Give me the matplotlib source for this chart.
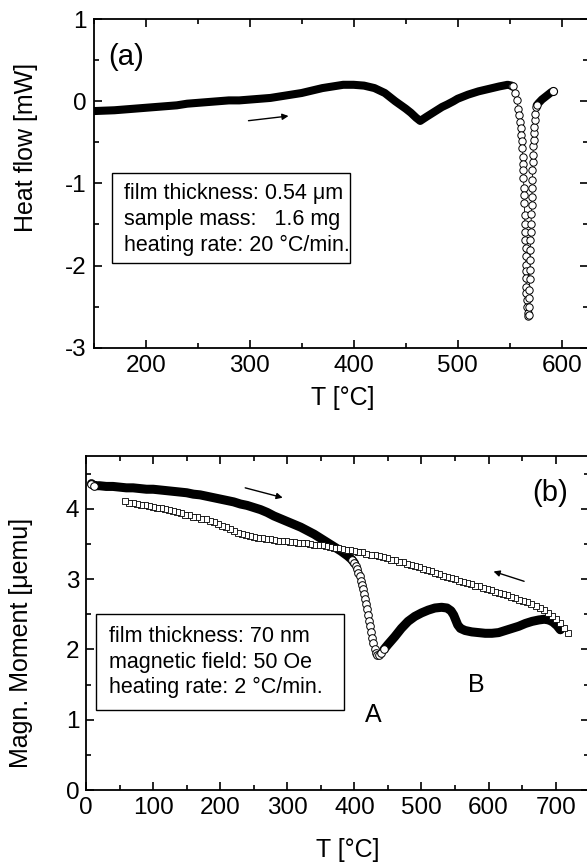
import matplotlib
matplotlib.use('Agg')  # no display
import matplotlib.pyplot as plt
from matplotlib.patches import Rectangle
import numpy as np

plt.rcParams['font.family'] = ['Liberation Sans', 'DejaVu Sans']
plt.rcParams['axes.unicode_minus'] = False

# ---- (a) DSC heat flow ----
dsc_T = [150, 160, 170, 180, 190, 200, 210, 220, 230, 240, 250, 260, 270, 280,
         290, 300, 310, 320, 330, 340, 350, 360, 370, 380, 390, 400, 410, 420,
         430, 440, 450, 455, 460, 464, 470, 475, 480, 485, 490, 496, 500, 510,
         520, 530, 540, 548, 552,
         # sharp peak, descending branch
         553.5, 555.1, 556.7, 558.3, 559.0, 559.9, 560.5, 561.2, 561.5, 562.2,
         562.5, 562.6, 563.1, 563.2, 563.8, 563.9, 564.2, 564.3, 564.7, 564.8,
         564.9, 565.3, 565.4, 565.5, 565.7, 565.8, 565.9, 566.0, 566.4, 566.6,
         567.2, 567.6,
         # rising branch
         568.3, 568.3, 568.6, 569.0, 569.3, 569.6, 569.6, 570.0, 570.0, 570.3,
         570.6, 570.9, 571.2, 571.5, 571.5, 571.9, 571.9, 572.2, 572.5, 572.7,
         573.0, 573.4, 573.7, 574.0, 574.3, 575.0,
         # tail
         576, 578, 581, 584, 587, 590, 592]
dsc_hf = [-0.12, -0.115, -0.11, -0.10, -0.09, -0.08, -0.07, -0.06, -0.05, -0.03,
          -0.02, -0.01, 0.0, 0.01, 0.01, 0.02, 0.03, 0.04, 0.06, 0.08, 0.10, 0.13,
          0.16, 0.18, 0.20, 0.20, 0.19, 0.16, 0.10, 0.0, -0.09, -0.14, -0.20,
          -0.24, -0.19, -0.15, -0.11, -0.07, -0.04, 0.0, 0.03, 0.08, 0.12, 0.15,
          0.18, 0.20, 0.19,
          0.18, 0.10, 0.015, -0.09, -0.17, -0.25, -0.33, -0.41, -0.49, -0.57,
          -0.675, -0.76, -0.84, -0.94, -1.06, -1.14, -1.24, -1.38, -1.49, -1.59,
          -1.69, -1.79, -1.89, -1.99, -2.07, -2.15, -2.26, -2.34, -2.42, -2.50,
          -2.58, -2.61,
          -2.60, -2.50, -2.40, -2.30, -2.17, -2.05, -1.93, -1.81, -1.69, -1.59,
          -1.49, -1.37, -1.26, -1.16, -1.06, -0.96, -0.84, -0.74, -0.655, -0.55,
          -0.47, -0.39, -0.31, -0.23, -0.15, -0.07,
          -0.05, -0.02, 0.02, 0.05, 0.08, 0.11, 0.12]

# ---- (b) magnetic moment, heating (circles) ----
heat_T = [8, 12, 20, 30, 40, 50, 60, 70, 80, 90, 100, 110, 120, 130, 140, 150,
          160, 170, 180, 190, 200, 210, 220, 230, 240, 250, 260, 270, 280, 290,
          300, 310, 320, 330, 340, 350, 360, 370, 380, 390, 396,
          400, 402, 404, 406, 408, 410, 411.5, 413, 414.5, 416, 417.5, 419,
          420.5, 422, 423.5, 425, 426.5, 428, 430, 432, 434, 437, 440, 444,
          450, 460, 470, 480, 490, 500, 510, 520, 530, 538, 544, 548, 551, 554,
          558, 565, 575, 585, 595, 605, 615, 625, 635, 645, 655, 665, 675, 683,
          690, 696, 702, 707]
heat_M = [4.36, 4.33, 4.33, 4.32, 4.32, 4.31, 4.30, 4.30, 4.29, 4.28, 4.28, 4.27,
          4.26, 4.25, 4.24, 4.23, 4.21, 4.20, 4.18, 4.16, 4.14, 4.12, 4.10, 4.07,
          4.05, 4.02, 3.99, 3.95, 3.90, 3.86, 3.82, 3.78, 3.74, 3.69, 3.64, 3.58,
          3.52, 3.46, 3.40, 3.33, 3.28,
          3.23, 3.19, 3.14, 3.09, 3.04, 2.98, 2.92, 2.86, 2.79, 2.72, 2.65, 2.57,
          2.49, 2.41, 2.33, 2.25, 2.17, 2.09, 2.01, 1.95, 1.92, 1.92, 1.95, 2.00,
          2.07, 2.18, 2.30, 2.40, 2.47, 2.52, 2.56, 2.59, 2.60, 2.59, 2.55, 2.49,
          2.42, 2.35, 2.30, 2.27, 2.25, 2.24, 2.23, 2.23, 2.24, 2.27, 2.30, 2.33,
          2.37, 2.40, 2.42, 2.43, 2.42, 2.39, 2.34, 2.28]

# ---- (b) magnetic moment, cooling (squares) ----
cool_T = [718, 712, 706, 700, 694, 688, 682, 676, 670, 664, 658, 652, 646, 640,
          634, 628, 622, 616, 610, 604, 598, 592, 586, 580, 574, 568, 562, 556,
          550, 544, 538, 532, 526, 520, 514, 508, 502, 496, 490, 484, 478, 472,
          466, 460, 454, 448, 442, 436, 430, 424, 418, 412, 406, 400, 394, 388,
          382, 376, 370, 364, 358, 352, 346, 340, 334, 328, 322, 316, 310, 304,
          298, 292, 286, 280, 274, 268, 262, 256, 250, 244, 238, 232, 226, 220,
          214, 208, 202, 196, 190, 184, 178, 172, 166, 160, 154, 148, 142, 136,
          130, 124, 118, 112, 106, 100, 94, 88, 82, 76, 70, 64, 58]
cool_M = [2.24, 2.31, 2.38, 2.44, 2.48, 2.52, 2.56, 2.59, 2.62, 2.64, 2.67, 2.69,
          2.71, 2.73, 2.75, 2.77, 2.79, 2.80, 2.82, 2.84, 2.86, 2.88, 2.90, 2.91,
          2.93, 2.95, 2.96, 2.98, 3.00, 3.01, 3.03, 3.05, 3.07, 3.09, 3.11, 3.13,
          3.15, 3.17, 3.19, 3.20, 3.22, 3.24, 3.25, 3.27, 3.28, 3.30, 3.31, 3.33,
          3.34, 3.35, 3.36, 3.38, 3.39, 3.40, 3.41, 3.42, 3.43, 3.44, 3.45, 3.46,
          3.47, 3.48, 3.49, 3.49, 3.50, 3.51, 3.51, 3.52, 3.53, 3.53, 3.54, 3.55,
          3.55, 3.56, 3.57, 3.57, 3.58, 3.59, 3.60, 3.61, 3.63, 3.64, 3.66, 3.68,
          3.71, 3.74, 3.76, 3.79, 3.81, 3.83, 3.85, 3.86, 3.88, 3.89, 3.91, 3.92,
          3.94, 3.95, 3.97, 3.98, 4.00, 4.01, 4.02, 4.03, 4.04, 4.05, 4.06, 4.07,
          4.08, 4.09, 4.11]

info_a = ['film thickness: 0.54 \u03bcm', 'sample mass:   1.6 mg',
          'heating rate: 20 \u00b0C/min.']
info_b = ['film thickness: 70 nm', 'magnetic field: 50 Oe',
          'heating rate: 2 \u00b0C/min.']

TICK_FS = 17.5
LABEL_FS = 18
INFO_FS = 15.5


def style_axis(ax):
    """Inward ticks on all four sides, like the original plot"""
    for sp in ax.spines.values():
        sp.set_linewidth(1.3)
    ax.tick_params(which='both', direction='in', top=True, right=True,
                   labelsize=TICK_FS, width=1.2, pad=5)
    ax.tick_params(which='major', length=6)
    ax.tick_params(which='minor', length=3.5)


def info_box(ax, lines, x0, y0, w, h, tx, ty):
    ax.add_patch(Rectangle((x0, y0), w, h, transform=ax.transAxes,
                           fill=False, edgecolor='k', lw=1.0, zorder=5))
    for line, y in zip(lines, ty):
        ax.text(tx, y, line, transform=ax.transAxes, ha='left', va='center',
                fontsize=INFO_FS, zorder=6)


fig = plt.figure(figsize=(5.87, 8.67), dpi=100)
ax1 = fig.add_axes([0.1595, 0.599, 0.8416, 0.379])
ax2 = fig.add_axes([0.1467, 0.0888, 0.857, 0.385])

# ---- panel (a) ----
T = np.array(dsc_T)
hf = np.array(dsc_hf)
peak = (T > 553) & (T < 576)
band = np.where(peak, np.nan, hf)
# dense part of the curve: the overlapping circles merge into a black band
ax1.plot(T, band, '-', color='k', lw=5.8, solid_capstyle='round',
         solid_joinstyle='round', zorder=2)
pk = (T >= 552) & (T <= 576)
ax1.plot(T[pk], hf[pk], '-', color='k', lw=0.6, marker='o', ms=5.3,
         mfc='white', mec='k', mew=0.7, zorder=3)
ax1.plot(T[-1], hf[-1], 'o', ms=5.8, mfc='white', mec='k', mew=0.8, zorder=4)

ax1.annotate('', xy=(337.4, -0.18), xytext=(298.9, -0.237),
             arrowprops=dict(arrowstyle='-|>', color='k', lw=1.0,
                             mutation_scale=9, shrinkA=0, shrinkB=0))
ax1.text(181.7, 0.534, '(a)', fontsize=21, ha='center', va='center')
info_box(ax1, info_a, 0.0364, 0.2586, 0.4826, 0.2734, 0.0607,
         [0.4697, 0.3915, 0.3124])

ax1.set_xlim(150, 625)
ax1.set_ylim(-3, 1)
ax1.set_xticks([200, 300, 400, 500, 600])
ax1.set_xticks(np.arange(150, 626, 50), minor=True)
ax1.set_yticks([-3, -2, -1, 0, 1])
ax1.set_yticks(np.arange(-3, 1.01, 0.5), minor=True)
style_axis(ax1)
ax1.set_xlabel('T [\u00b0C]', fontsize=LABEL_FS, va='center')
ax1.xaxis.set_label_coords(0.504, -0.154)
ax1.set_ylabel('Heat flow [mW]', fontsize=LABEL_FS, va='center')
ax1.yaxis.set_label_coords(-0.136, 0.609)

# ---- panel (b) ----
hT = np.array(heat_T)
hM = np.array(heat_M)
steep = (hT > 401) & (hT < 441)
hband = np.where(steep, np.nan, hM)
ax2.plot(hT, hband, '-', color='k', lw=6.5, solid_capstyle='round',
         solid_joinstyle='round', zorder=2)
st = (hT >= 396) & (hT <= 444)
ax2.plot(hT[st], hM[st], 'o', ms=5.5, mfc='white', mec='k', mew=0.7, zorder=3)
ax2.plot(hT[:2], hM[:2], 'o', ms=5.5, mfc='white', mec='k', mew=0.7, zorder=3)
ax2.plot(cool_T, cool_M, 's', ms=5, mfc='white', mec='k', mew=0.6,
         zorder=4)

ax2.annotate('', xy=(293.1, 4.16), xytext=(237.2, 4.30),
             arrowprops=dict(arrowstyle='-|>', color='k', lw=1.0,
                             mutation_scale=9, shrinkA=0, shrinkB=0))
ax2.annotate('', xy=(607.4, 3.11), xytext=(653.0, 2.97),
             arrowprops=dict(arrowstyle='-|>', color='k', lw=1.0,
                             mutation_scale=9, shrinkA=0, shrinkB=0))
ax2.text(692, 4.22, '(b)', fontsize=21, ha='center', va='center')
ax2.text(428, 1.07, 'A', fontsize=LABEL_FS, ha='center', va='center')
ax2.text(582, 1.49, 'B', fontsize=LABEL_FS, ha='center', va='center')
info_box(ax2, info_b, 0.0187, 0.2395, 0.4933, 0.2865, 0.0447,
         [0.461, 0.382, 0.3075])

ax2.set_xlim(0, 750)
ax2.set_ylim(0, 4.75)
ax2.set_xticks(np.arange(0, 701, 100))
ax2.set_xticks(np.arange(0, 751, 50), minor=True)
ax2.set_yticks([0, 1, 2, 3, 4])
ax2.set_yticks(np.arange(0, 4.76, 0.5), minor=True)
style_axis(ax2)
ax2.set_xlabel('T [\u00b0C]', fontsize=LABEL_FS, va='center')
ax2.xaxis.set_label_coords(0.521, -0.18)
ax2.set_ylabel('Magn. Moment [\u03bcemu]', fontsize=LABEL_FS, va='center')
ax2.yaxis.set_label_coords(-0.130, 0.4416)

fig.savefig('out.png', dpi=100)
plt.close(fig)
